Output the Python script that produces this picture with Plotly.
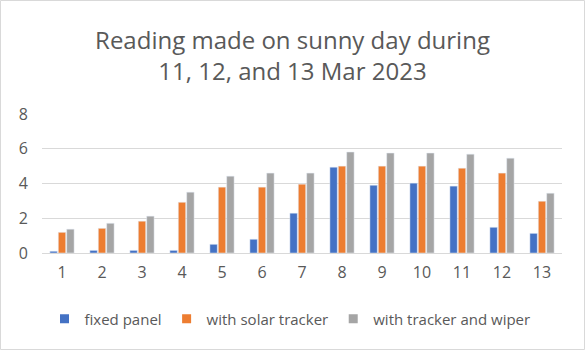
import plotly.graph_objects as go

categories = [str(i) for i in range(1, 14)]
fixed_panel = [0.10, 0.15, 0.15, 0.15, 0.50, 0.79, 2.29, 4.94, 3.90, 4.02, 3.85, 1.48, 1.13]
solar_tracker = [1.19, 1.42, 1.83, 2.92, 3.79, 3.79, 3.96, 5.00, 5.00, 5.00, 4.88, 4.60, 2.98]
tracker_wiper = [1.37, 1.71, 2.12, 3.50, 4.42, 4.60, 4.60, 5.81, 5.75, 5.75, 5.69, 5.46, 3.44]
y_ticks = [0, 2, 4, 6, 8]
series_names = ["fixed panel", "with solar tracker", "with tracker and wiper"]
series_colors = ["#4472C4", "#ED7D31", "#A5A5A5"]

W, H = 585, 350
L, R, T, B = 42, 23, 114, 97
pw, ph = W - L - R, H - T - B

fig = go.Figure()
for name, vals, col in zip(series_names, [fixed_panel, solar_tracker, tracker_wiper], series_colors):
    fig.add_trace(go.Bar(x=categories, y=vals, name=name, marker_color=col, showlegend=False))
# legend entries with small square markers
for name, col in zip(series_names, series_colors):
    fig.add_trace(go.Scatter(x=[None], y=[None], mode="markers", name=name,
                             marker=dict(symbol="square", size=9, color=col), showlegend=True))

font = "Open Sans"
fig.update_layout(
    width=W, height=H,
    margin=dict(l=L, r=R, t=T, b=B),
    paper_bgcolor="white", plot_bgcolor="white",
    barmode="group", bargap=0.37, bargroupgap=0.12,
    title=dict(text="Reading made on sunny day during<br>11, 12, and 13 Mar 2023",
               x=0.5, xanchor="center", xref="container",
               y=1 - 49 / H, yanchor="middle", yref="container",
               font=dict(family=font, size=24, color="#595959")),
    font=dict(family=font, color="#595959"),
    showlegend=True,
    legend=dict(orientation="h", x=(290 - L) / pw, xanchor="center", y=(0 - 66) / ph, yanchor="middle",
                font=dict(family=font, size=15, color="#595959"),
                itemwidth=30, traceorder="normal"),
    xaxis=dict(type="category", showgrid=False, showline=True, linecolor="#D9D9D9", linewidth=1,
               ticks="", tickfont=dict(size=16, color="#595959"), ticklabelstandoff=5),
    yaxis=dict(range=[0, 8], tickvals=y_ticks, showgrid=True, gridcolor="#D9D9D9", gridwidth=1.3,
               zeroline=False, showline=False, ticks="",
               tickfont=dict(size=16, color="#595959"), ticklabelstandoff=13),
    shapes=[dict(type="rect", xref="paper", yref="paper",
                 x0=(0.5 - L) / pw, x1=(W - 0.5 - L) / pw,
                 y0=-(B - 0.5) / ph, y1=(H - B - 0.5) / ph,
                 line=dict(color="#D9D9D9", width=1), fillcolor="rgba(0,0,0,0)", layer="below")],
)

fig.write_html("out.html")
